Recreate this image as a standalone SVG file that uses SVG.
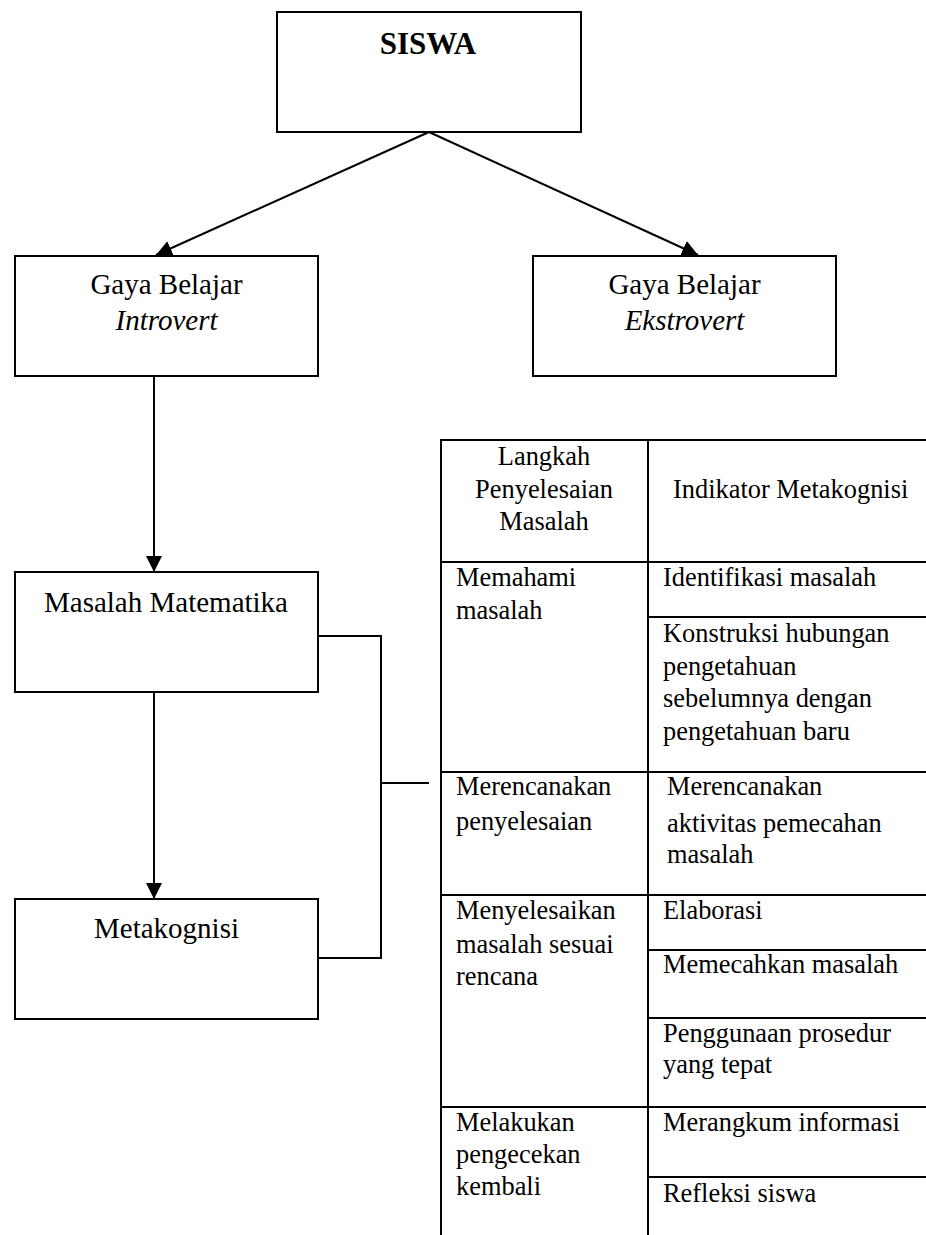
<svg xmlns="http://www.w3.org/2000/svg" width="926" height="1235" viewBox="0 0 926 1235">
<style>
.box{fill:#fff;stroke:#000;stroke-width:2}
.ln{fill:none;stroke:#000;stroke-width:2}
.t{font-family:"Liberation Serif","Times New Roman",serif;font-size:29px;fill:#000}
.c{text-anchor:middle}
.b{font-weight:bold;font-size:31px}
.i{font-style:italic}
.tb{font-family:"Liberation Serif","Times New Roman",serif;font-size:26.4px;fill:#000}
</style>
<defs>
<marker id="ah" markerUnits="userSpaceOnUse" markerWidth="16" markerHeight="16" refX="16" refY="8" orient="auto" viewBox="0 0 16 16">
<path d="M0,0 L16,8 L0,16 z" fill="#000"/>
</marker>
</defs>
<rect width="926" height="1235" fill="#fff"/>
<g id="connectors">
<line class="ln" x1="429" y1="132" x2="156" y2="255" marker-end="url(#ah)"/>
<line class="ln" x1="429" y1="132" x2="698" y2="255" marker-end="url(#ah)"/>
<line class="ln" x1="154" y1="376" x2="154" y2="572" marker-end="url(#ah)"/>
<line class="ln" x1="154" y1="692" x2="154" y2="899" marker-end="url(#ah)"/>
<polyline class="ln" points="318,636 381,636 381,958 318,958"/>
<line class="ln" x1="381" y1="783" x2="429" y2="783"/>
</g>
<g id="siswa">
<rect class="box" x="277" y="12" width="304" height="120"/>
<text class="t c b" x="428" y="54">SISWA</text>
</g>
<g id="introvert">
<rect class="box" x="15" y="256" width="303" height="120"/>
<text class="t c" x="166.5" y="294">Gaya Belajar</text>
<text class="t c i" x="166.5" y="330">Introvert</text>
</g>
<g id="ekstrovert">
<rect class="box" x="533" y="256" width="303" height="120"/>
<text class="t c" x="684.5" y="294">Gaya Belajar</text>
<text class="t c i" x="684.5" y="330">Ekstrovert</text>
</g>
<g id="masalah">
<rect class="box" x="15" y="572" width="303" height="120"/>
<text class="t c" x="166" y="612">Masalah Matematika</text>
</g>
<g id="metakognisi">
<rect class="box" x="15" y="899" width="303" height="120"/>
<text class="t c" x="166.5" y="938">Metakognisi</text>
</g>
<g id="table">
<line class="ln" x1="441" y1="440" x2="441" y2="1235"/>
<line class="ln" x1="648" y1="440" x2="648" y2="1235"/>
<line class="ln" x1="440" y1="440" x2="926" y2="440"/>
<line class="ln" x1="441" y1="562" x2="926" y2="562"/>
<line class="ln" x1="441" y1="772" x2="926" y2="772"/>
<line class="ln" x1="441" y1="895" x2="926" y2="895"/>
<line class="ln" x1="441" y1="1107" x2="926" y2="1107"/>
<line class="ln" x1="648" y1="617" x2="926" y2="617"/>
<line class="ln" x1="648" y1="950" x2="926" y2="950"/>
<line class="ln" x1="648" y1="1018" x2="926" y2="1018"/>
<line class="ln" x1="648" y1="1177" x2="926" y2="1177"/>
<text class="tb c" x="544" y="465">Langkah</text>
<text class="tb c" x="544" y="498">Penyelesaian</text>
<text class="tb c" x="544" y="530">Masalah</text>
<text class="tb" x="673" y="498">Indikator Metakognisi</text>
<text class="tb" x="456" y="586">Memahami</text>
<text class="tb" x="456" y="619">masalah</text>
<text class="tb" x="663" y="586">Identifikasi masalah</text>
<text class="tb" x="663" y="642">Konstruksi hubungan</text>
<text class="tb" x="663" y="675">pengetahuan</text>
<text class="tb" x="663" y="707">sebelumnya dengan</text>
<text class="tb" x="663" y="740">pengetahuan baru</text>
<text class="tb" x="456" y="795">Merencanakan</text>
<text class="tb" x="456" y="830">penyelesaian</text>
<text class="tb" x="667" y="795">Merencanakan</text>
<text class="tb" x="667" y="832">aktivitas pemecahan</text>
<text class="tb" x="667" y="863">masalah</text>
<text class="tb" x="456" y="919">Menyelesaikan</text>
<text class="tb" x="456" y="953">masalah sesuai</text>
<text class="tb" x="456" y="985">rencana</text>
<text class="tb" x="663" y="919">Elaborasi</text>
<text class="tb" x="663" y="973">Memecahkan masalah</text>
<text class="tb" x="663" y="1042">Penggunaan prosedur</text>
<text class="tb" x="663" y="1073">yang tepat</text>
<text class="tb" x="456" y="1131">Melakukan</text>
<text class="tb" x="456" y="1163">pengecekan</text>
<text class="tb" x="456" y="1195">kembali</text>
<text class="tb" x="663" y="1131">Merangkum informasi</text>
<text class="tb" x="663" y="1202">Refleksi siswa</text>
</g>
</svg>
